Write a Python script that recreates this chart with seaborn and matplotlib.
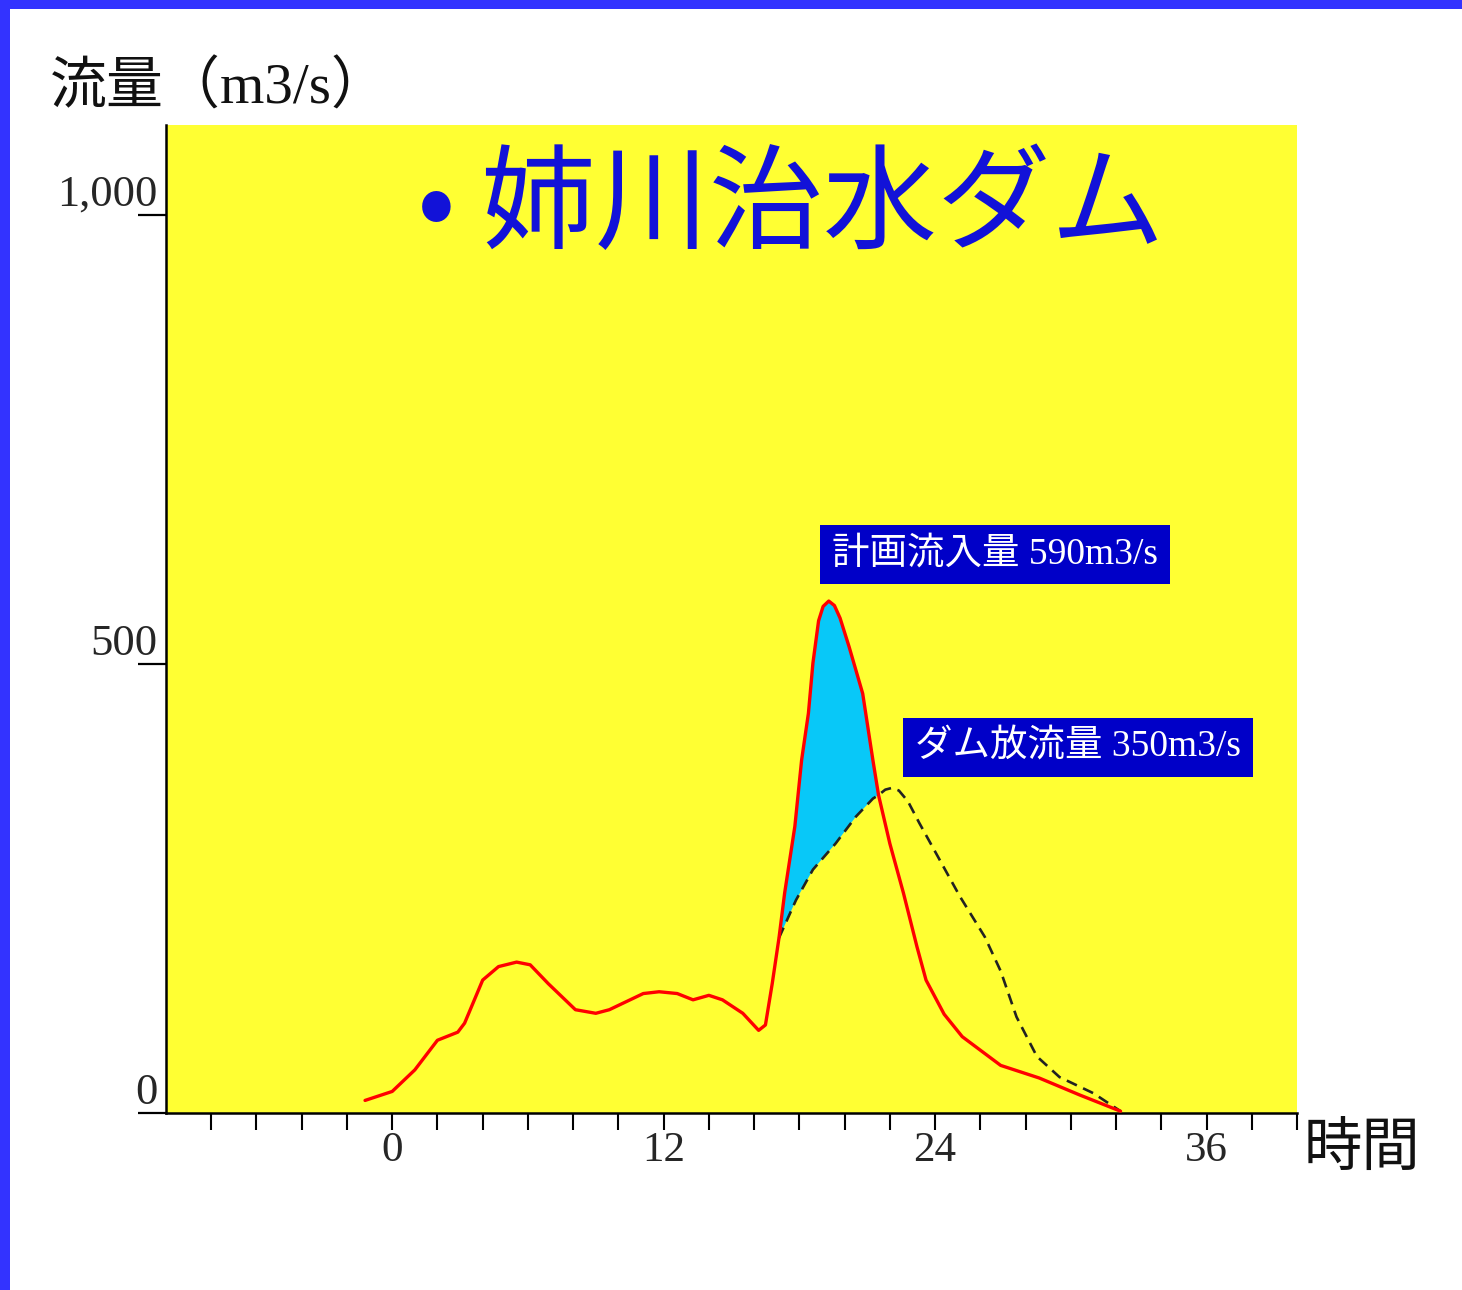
import pandas as pd
import seaborn as sns
import matplotlib.pyplot as plt
from matplotlib.patches import Rectangle

# Inflow (red) and dam release (dashed)
inflow_hours = [-1.2, 0, 1.0, 2.0, 2.9, 3.2, 4.0, 4.7, 5.5, 6.1, 6.9, 8.1, 9.0, 9.6,
                11.1, 11.8, 12.6, 13.3, 14.0, 14.6, 15.5, 16.2, 16.5, 16.8, 17.1,
                17.35, 17.8, 18.1, 18.4, 18.6, 18.85, 19.05, 19.3, 19.55, 19.8, 20.2,
                20.8, 21.25, 21.5, 22.0, 22.6, 23.2, 23.6, 24.4, 25.2, 26.9, 28.6,
                30.4, 32.2]
inflow_values = [14, 24, 48, 81, 90, 100, 148, 163, 168, 165, 144, 115, 111, 115,
                 133, 135, 133, 126, 131, 126, 111, 92, 98, 144, 195,
                 245, 319, 393, 445, 501, 548, 564, 570, 565, 551, 519,
                 467, 393, 354, 300, 245, 185, 148, 110, 85, 53, 39,
                 20, 2]

release_hours = [17.1, 17.85, 18.6, 19.6, 20.5, 21.25, 21.5, 21.8, 22.1, 22.4, 22.8,
                 23.3, 24.2, 25.1, 26.2, 26.9, 27.6, 28.5, 29.5, 31.0, 32.2]
release_values = [195, 237, 271, 300, 330, 350, 354, 360, 362, 359, 347,
                  323, 282, 241, 196, 158, 107, 63, 40, 22, 2]

# Flood-control storage is where inflow exceeds release
store_start, store_end = 17.1, 21.5

x_ticks = list(range(-8, 41, 2))
x_labels = [str(t) if t % 12 == 0 else '' for t in x_ticks]
y_ticks = [0, 500, 1000]
y_labels = ['0', '500', '1,000']

title = '• 姉川治水ダム'
y_title = '流量（m3/s）'
x_title = '時間'
inflow_label = '計画流入量 590m3/s'
release_label = 'ダム放流量 350m3/s'

sns.set_theme(style='white')
plt.rcParams['font.family'] = ['Liberation Serif', 'Noto Sans CJK JP', 'DejaVu Sans']

inflow = pd.DataFrame({'hour': inflow_hours, 'flow': inflow_values})
release = pd.DataFrame({'hour': release_hours, 'flow': release_values})

fig = plt.figure(figsize=(14.62, 12.90), dpi=100)
fig.patch.set_facecolor('white')
ax = fig.add_axes([166 / 1462, 177 / 1290, 1131 / 1462, 988 / 1290])
ax.set_facecolor('#ffff33')

# storage area polygon
up = inflow[(inflow.hour >= store_start) & (inflow.hour <= store_end)]
down = release[(release.hour >= store_start) & (release.hour <= store_end)].iloc[::-1]
ax.fill(list(up.hour) + list(down.hour), list(up.flow) + list(down.flow),
        color='#08c8f8', lw=0, zorder=1)

sns.lineplot(data=release, x='hour', y='flow', ax=ax, color='#222222',
             linewidth=1.9, linestyle=(0, (4.2, 2.6)), zorder=3)
sns.lineplot(data=inflow, x='hour', y='flow', ax=ax, color='#ff0000',
             linewidth=2.4, zorder=4)

ax.set_xlim(-10, 40)
ax.set_ylim(0, 1100)
ax.set_xlabel('')
ax.set_ylabel('')

for side in ['top', 'right']:
    ax.spines[side].set_visible(False)
for side in ['left', 'bottom']:
    ax.spines[side].set_color('black')
    ax.spines[side].set_linewidth(1.8)

ax.set_xticks(x_ticks)
ax.set_xticklabels(x_labels, fontsize=31, family='Liberation Serif')
ax.tick_params(axis='x', direction='out', length=12, width=1.5, color='black',
               pad=1, bottom=True)
ax.set_yticks(y_ticks)
ax.set_yticklabels(y_labels, fontsize=32, family='Liberation Serif')
ax.tick_params(axis='y', direction='out', length=20, width=1.6, color='black',
               pad=-14, left=True)
for lab in ax.get_yticklabels():
    lab.set_verticalalignment('bottom')

ax.text(0.222, 0.917, title, transform=ax.transAxes, fontsize=82,
        color='#1212d8', va='center', ha='left', family=['Noto Sans CJK JP'])
fig.text(50 / 1462, 1 - 88 / 1290, y_title, fontsize=41, va='center', ha='left',
         color='#111111')
ax.text(1.006, -0.036, x_title, transform=ax.transAxes, fontsize=42,
        va='center', ha='left', color='#111111', family=['Noto Sans CJK JP'])

box = dict(boxstyle='square,pad=0.32', facecolor='#0000c8', edgecolor='none')
ax.text(19.45, 622, inflow_label, fontsize=27, color='white', va='center',
        ha='left', bbox=box, zorder=5)
ax.text(23.12, 407, release_label, fontsize=27, color='white', va='center',
        ha='left', bbox=box, zorder=5)

# blue frame on the left and top edge
fig.add_artist(Rectangle((0, 0), 10 / 1462, 1, transform=fig.transFigure,
                         color='#3333ff', lw=0))
fig.add_artist(Rectangle((0, 1 - 9 / 1290), 1, 9 / 1290, transform=fig.transFigure,
                         color='#3333ff', lw=0))

fig.savefig('out.png', dpi=100)
